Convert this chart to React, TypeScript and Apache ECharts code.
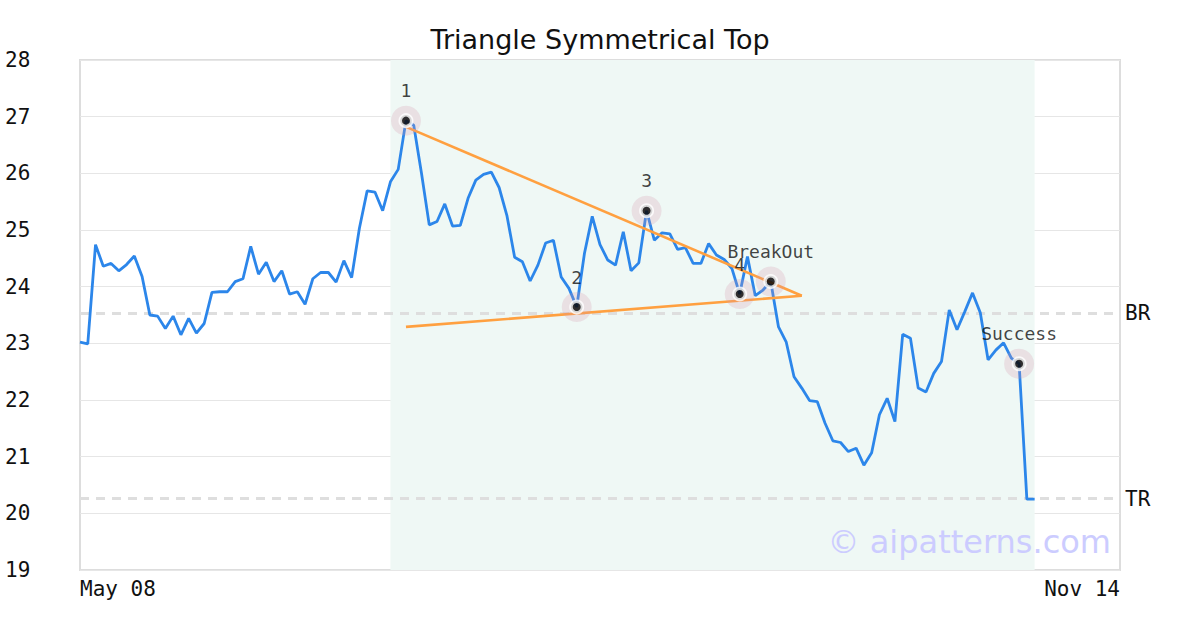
import React, { useEffect, useRef } from "react";
import * as echarts from "echarts";

const titleText = "Triangle Symmetrical Top";
const xTickLabels = ["May 08", "Nov 14"];
const xMin = 0;
const xMax = 134;

const prices = [
  23.02, 22.99, 24.74, 24.36, 24.41, 24.28, 24.39, 24.54, 24.18, 23.5,
  23.48, 23.26, 23.48, 23.15, 23.44, 23.18, 23.35, 23.9, 23.91, 23.91,
  24.09, 24.14, 24.71, 24.22, 24.43, 24.09, 24.28, 23.87, 23.91, 23.69,
  24.14, 24.25, 24.25, 24.08, 24.46, 24.16, 25.03, 25.69, 25.67, 25.34,
  25.85, 26.07, 26.93, 26.85, 26.0, 25.09, 25.15, 25.46, 25.07, 25.08,
  25.56, 25.88, 25.98, 26.02, 25.75, 25.26, 24.52, 24.44, 24.1, 24.38,
  24.77, 24.82, 24.17, 23.97, 23.64, 24.59, 25.24, 24.74, 24.47, 24.38,
  24.97, 24.28, 24.42, 25.34, 24.82, 24.95, 24.93, 24.66, 24.69, 24.41,
  24.41, 24.76, 24.56, 24.48, 24.32, 23.87, 24.53, 23.84, 23.94, 24.09,
  23.29, 23.02, 22.41, 22.21, 21.99, 21.97, 21.59, 21.28, 21.25, 21.09,
  21.15, 20.85, 21.07, 21.74, 22.03, 21.62, 23.16, 23.09, 22.21, 22.14,
  22.47, 22.68, 23.59, 23.24, 23.56, 23.89, 23.54, 22.71, 22.88, 23.01,
  22.74, 22.64, 20.25, 20.25,
];

const patternIdx = [42, 64, 73, 85, 89, 121];
const patternLabels = ["1", "2", "3", "4", "BreakOut", "Success"];

const upperTrend = [
  [42, 26.82],
  [93, 23.84],
];
const lowerTrend = [
  [42, 23.29],
  [93, 23.84],
];

const patternRange = [40, 123];
const levels = [
  { name: "BR", value: 23.53 },
  { name: "TR", value: 20.26 },
];

const MONO = "DejaVu Sans Mono";
const SANS = "DejaVu Sans";

export default function App() {
  const ref = useRef<HTMLDivElement>(null);
  useEffect(() => {
    if (!ref.current) return;
    const chart = echarts.init(ref.current, undefined, { renderer: "svg" });
    const lineData = prices.map((v, i) => [i, v]);
    const pts = patternIdx.map((i, k) => ({
      value: [i, prices[i]],
      name: patternLabels[k],
    }));
    chart.setOption({
      animation: false,
      backgroundColor: "#ffffff",
      title: {
        text: titleText,
        left: "center",
        top: 21,
        textStyle: {
          fontFamily: SANS,
          fontSize: 27,
          fontWeight: "normal",
          color: "#111",
        },
      },
      grid: {
        left: 80,
        right: 80,
        top: 60,
        bottom: 60,
        show: true,
        borderColor: "#dddddd",
        borderWidth: 2,
        backgroundColor: "transparent",
      },
      xAxis: {
        type: "value",
        min: xMin,
        max: xMax,
        interval: xMax - xMin,
        splitLine: { show: false },
        axisLine: { show: false },
        axisTick: { show: false },
        axisLabel: {
          fontFamily: MONO,
          fontSize: 21,
          color: "#111",
          margin: 8,
          alignMinLabel: "left",
          alignMaxLabel: "right",
          formatter: (v: number) => (v === xMin ? xTickLabels[0] : xTickLabels[1]),
        },
      },
      yAxis: {
        type: "value",
        min: 19,
        max: 28,
        interval: 1,
        axisLine: { show: false },
        axisTick: { show: false },
        splitLine: { lineStyle: { color: "#e6e6e6", width: 1 } },
        axisLabel: {
          fontFamily: MONO,
          fontSize: 21,
          color: "#111",
          align: "left",
          margin: 75,
        },
      },
      graphic: [
        {
          type: "text",
          x: 1111,
          y: 542,
          z: 100,
          style: {
            text: "© aipatterns.com",
            font: "32px " + SANS,
            fill: "#ccccff",
            textAlign: "right",
            textVerticalAlign: "middle",
          },
        },
      ],
      series: [
        {
          type: "line",
          data: [],
          symbol: "none",
          z: 1,
          markArea: {
            silent: true,
            z: 0,
            itemStyle: { color: "#eff8f5" },
            data: [[{ xAxis: patternRange[0] }, { xAxis: patternRange[1] }]],
          },
          markLine: {
            silent: true,
            z: 1,
            symbol: "none",
            lineStyle: { color: "#dedede", width: 3, type: [9, 7] },
            label: {
              show: true,
              position: "end",
              distance: 5,
              fontFamily: MONO,
              fontSize: 21,
              color: "#111",
              formatter: (p: any) => p.name,
            },
            data: levels.map((l) => ({ name: l.name, yAxis: l.value })),
          },
        },
        {
          type: "line",
          data: lineData,
          showSymbol: false,
          symbol: "none",
          lineStyle: { color: "#2c86ea", width: 2.8 },
          z: 3,
        },
        {
          type: "line",
          data: upperTrend,
          symbol: "none",
          lineStyle: { color: "#ffa040", width: 2.6 },
          z: 4,
        },
        {
          type: "line",
          data: lowerTrend,
          symbol: "none",
          lineStyle: { color: "#ffa040", width: 2.6 },
          z: 4,
        },
        {
          type: "scatter",
          data: pts,
          symbol: "circle",
          symbolSize: 30,
          itemStyle: { color: "rgba(215,150,170,0.3)" },
          z: 5,
          label: {
            show: true,
            position: "top",
            distance: 6,
            fontFamily: MONO,
            fontSize: 18,
            color: "#111",
            formatter: (p: any) => p.name,
          },
        },
        {
          type: "scatter",
          data: pts,
          symbol: "circle",
          symbolSize: 11.5,
          itemStyle: { color: "#000", borderColor: "#fff", borderWidth: 3.5 },
          z: 6,
        },
      ],
    });
    return () => chart.dispose();
  }, []);
  return (
    <div
      ref={ref}
      style={{ position: "absolute", left: 0, top: 0, width: 1200, height: 630 }}
    />
  );
}
